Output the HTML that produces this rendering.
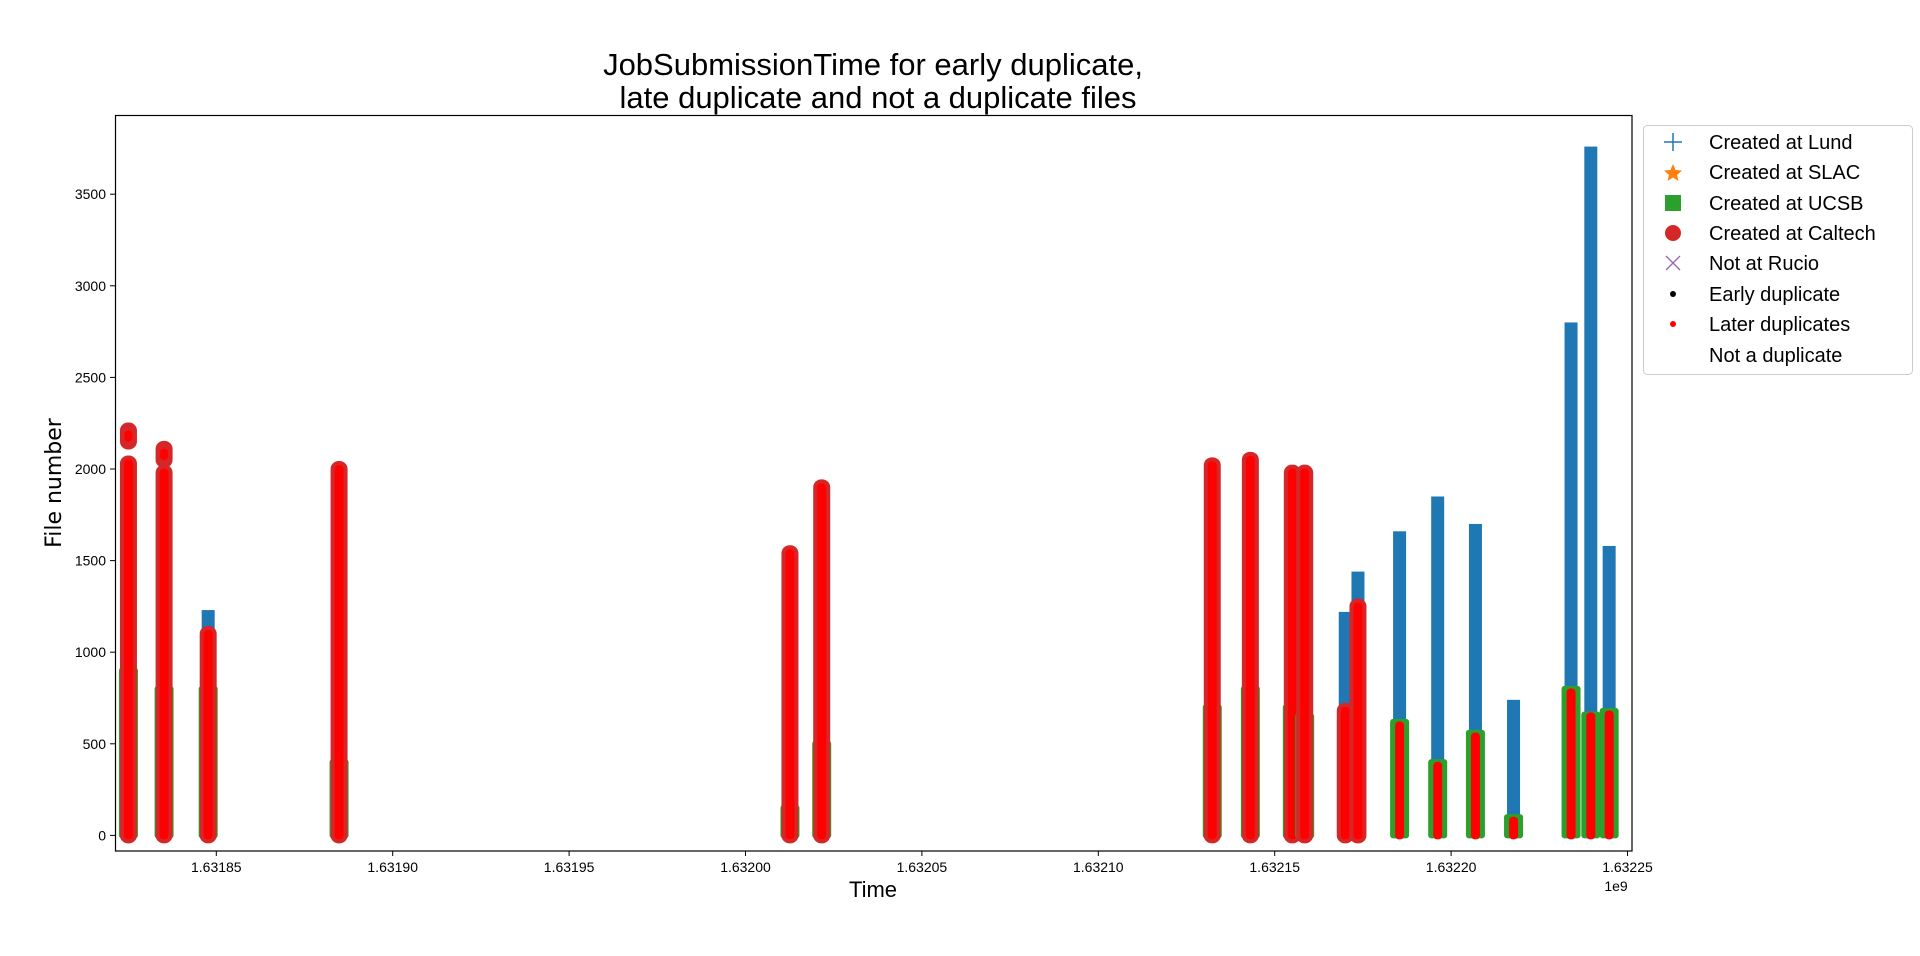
<!DOCTYPE html>
<html><head><meta charset="utf-8"><style>
body{margin:0;background:#fff;}
svg{display:block;font-family:"Liberation Sans","DejaVu Sans",sans-serif;}
</style></head><body>
<svg id="chart" width="1920" height="956" viewBox="0 0 1920 956">
<text x="873" y="75" font-size="31" text-anchor="middle">JobSubmissionTime for early duplicate,</text>
<text x="878" y="108" font-size="31" text-anchor="middle">late duplicate and not a duplicate files</text>
<g id="marks"></g>
<rect x="115.5" y="115.5" width="1516.5" height="735.5" fill="none" stroke="#000" stroke-width="1.2"/>
<g id="axes"></g>
<text x="873" y="897" font-size="22" text-anchor="middle">Time</text>
<text x="1616" y="891" font-size="14" text-anchor="middle">1e9</text>
<text transform="translate(61,483) rotate(-90)" font-size="22" text-anchor="middle" style="font-family:'DejaVu Sans',sans-serif">File number</text>
<g>
<rect x="1643.5" y="125.5" width="269" height="249" rx="4" fill="#fff" stroke="#ccc"/>
<g><path d="M1664 142h18M1673 133v18" stroke="#1f77b4" stroke-width="1.5"/><text x="1709" y="149" font-size="20">Created at Lund</text></g>
<g><polygon points="1673,164 1675.5,170 1682,170.5 1677,175 1678.5,181 1673,177.5 1667.5,181 1669,175 1664,170.5 1670.5,170" fill="#ff7f0e"/><text x="1709" y="179" font-size="20">Created at SLAC</text></g>
<g><rect x="1665" y="195" width="16" height="16" fill="#2ca02c"/><text x="1709" y="210" font-size="20">Created at UCSB</text></g>
<g><circle cx="1673" cy="233" r="8" fill="#d62728"/><text x="1709" y="240" font-size="20">Created at Caltech</text></g>
<g><path d="M1666 256l14 14M1680 256l-14 14" stroke="#9467bd" stroke-width="1.3"/><text x="1709" y="270" font-size="20">Not at Rucio</text></g>
<g><circle cx="1673" cy="294" r="3" fill="#000"/><text x="1709" y="301" font-size="20">Early duplicate</text></g>
<g><circle cx="1673" cy="324" r="3" fill="red"/><text x="1709" y="331" font-size="20">Later duplicates</text></g>
<g><text x="1709" y="362" font-size="20">Not a duplicate</text></g>
</g>
</svg>
<script>
// times in units of 1e4 s offset from 1.6318e9
const clusterTimes = [2.51,3.52,4.77,8.48,21.26,22.16,33.23,34.31,35.5,35.85,37.0,37.36,38.54,39.62,40.69,41.77,43.40,43.96,44.48];
const lundLow  = [0,0,0,0,0,1280,0,0,1100,1100,0,0,600,400,550,100,800,650,650];
const lundHigh = [0,0,1230,0,0,1320,0,0,1390,1390,1220,1440,1660,1850,1700,740,2800,3760,1580];
const ucsbHigh = [900,800,800,400,150,500,700,800,700,650,0,0,620,400,560,100,800,660,680];
const caltechHigh = [2030,1980,1100,2000,1540,1900,2020,2050,1980,1980,680,1250,0,0,0,0,0,0,0];
const caltechBlob = [2180,2080,0,0,0,0,0,0,0,0,0,0,0,0,0,0,0,0,0];
const laterDupHigh = [2030,1980,1100,2000,1540,1900,2020,2050,1980,1980,680,1250,600,380,540,80,780,650,660];
const xTicks = [1.63185,1.63190,1.63195,1.63200,1.63205,1.63210,1.63215,1.63220,1.63225];
const xTickLabels = ["1.63185","1.63190","1.63195","1.63200","1.63205","1.63210","1.63215","1.63220","1.63225"];
const yTicks = [0,500,1000,1500,2000,2500,3000,3500];

const NS='http://www.w3.org/2000/svg';
function xScale(t){return 216.3+(t-5)*35.28;}
function xTickScale(v){return 216.3+(v-1.63185)/0.00005*176.4;}
function yScale(v){return 835.4-v*0.1832;}
const marks=document.getElementById('marks');
const axes=document.getElementById('axes');
function rect(x,y0,y1,w,fill,rx,name){
  if(y1<=y0) return;
  const r=document.createElementNS(NS,'rect');
  r.setAttribute('x',x-w/2);r.setAttribute('y',yScale(y1)-(rx||0));
  r.setAttribute('width',w);r.setAttribute('height',yScale(y0)-yScale(y1)+2*(rx||0));
  if(rx){r.setAttribute('rx',rx);}
  r.setAttribute('fill',fill);
  
  
  marks.appendChild(r);
}
clusterTimes.forEach((t,i)=>{
  const x=xScale(t);
  rect(x,lundLow[i],lundHigh[i],13,'#1f77b4',0,'lund-bar');
  rect(x,0,ucsbHigh[i],19,'#2ca02c',3,'ucsb-bar');
  rect(x,0,caltechHigh[i],17,'#d62728',8,'caltech-bar');
  if(caltechBlob[i]>0){rect(x,caltechBlob[i]-30,caltechBlob[i]+30,17,'#d62728',8,'caltech-blob');rect(x,caltechBlob[i]-10,caltechBlob[i]+10,8,'#ff0000',4,'later-duplicate-blob');}
  rect(x,0,laterDupHigh[i],9,'#ff0000',4,'later-duplicate-bar');
});
xTicks.forEach((v,i)=>{
  const x=xTickScale(v);
  const l=document.createElementNS(NS,'line');
  l.setAttribute('x1',x);l.setAttribute('x2',x);l.setAttribute('y1',851);l.setAttribute('y2',856);l.setAttribute('stroke','#000');
  
  
  axes.appendChild(l);
  const tx=document.createElementNS(NS,'text');
  tx.setAttribute('x',x);tx.setAttribute('y',872);tx.setAttribute('font-size','14');tx.setAttribute('text-anchor','middle');
  tx.textContent=xTickLabels[i];
  
  
  axes.appendChild(tx);
});
yTicks.forEach(v=>{
  const y=yScale(v);
  const l=document.createElementNS(NS,'line');
  l.setAttribute('x1',110);l.setAttribute('x2',115.5);l.setAttribute('y1',y);l.setAttribute('y2',y);l.setAttribute('stroke','#000');
  
  
  axes.appendChild(l);
  const tx=document.createElementNS(NS,'text');
  tx.setAttribute('x',106);tx.setAttribute('y',y+5);tx.setAttribute('font-size','14');tx.setAttribute('text-anchor','end');
  tx.textContent=String(v);
  
  
  axes.appendChild(tx);
});
</script>
</body></html>
